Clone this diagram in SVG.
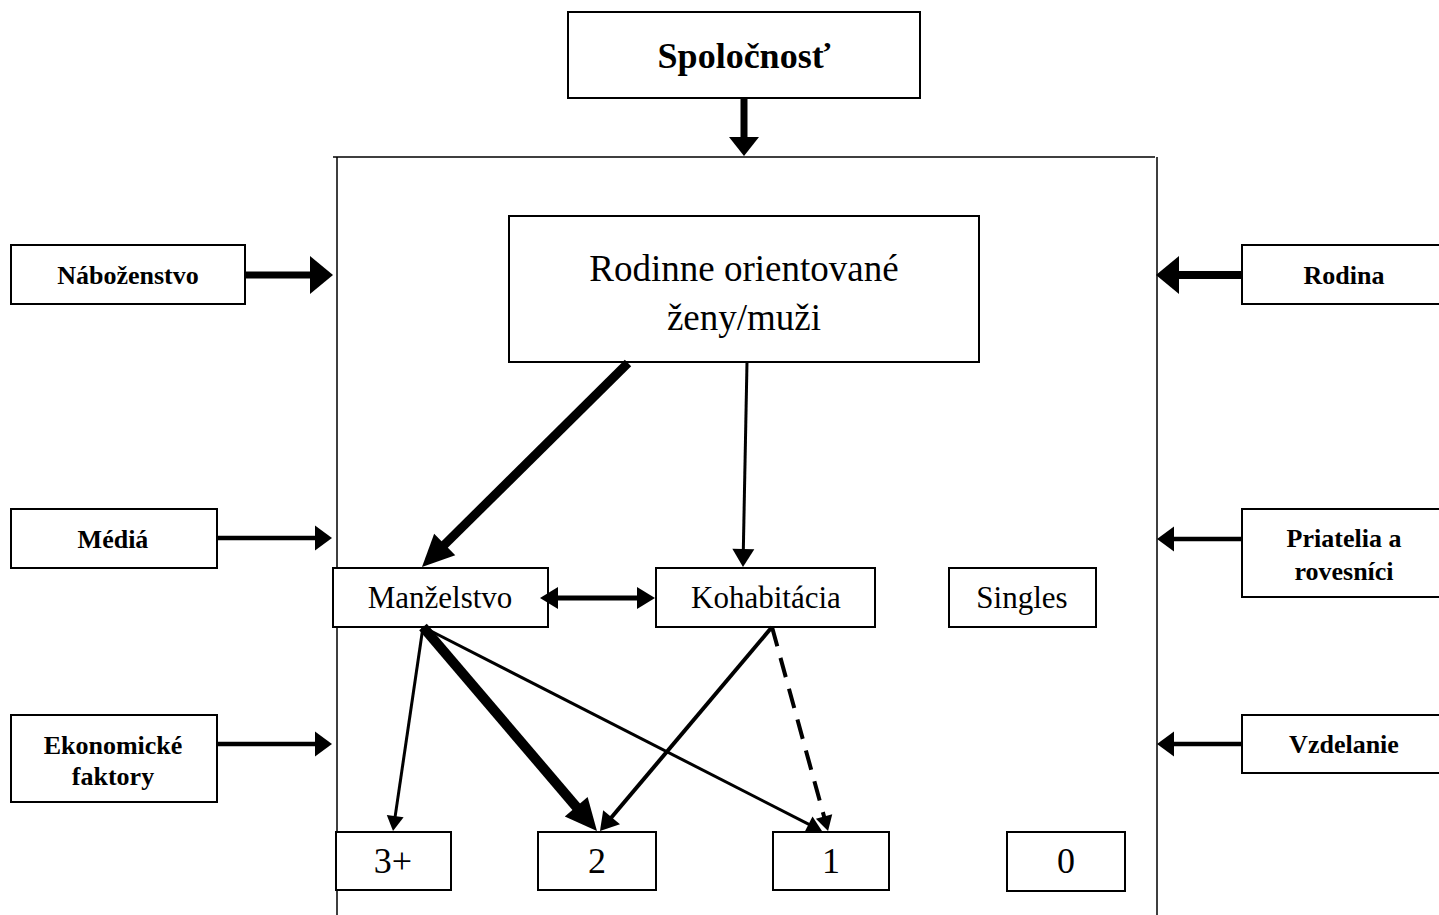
<svg xmlns="http://www.w3.org/2000/svg" width="1439" height="915" viewBox="0 0 1439 915">
<style>
  .box { fill: #fff; stroke: #000; stroke-width: 2; }
  .frame { fill: none; stroke: #000; stroke-width: 1.5; }
  .t { font-family: "Liberation Serif", "Times New Roman", serif; fill: #000; text-anchor: middle; }
  .b { font-weight: bold; font-size: 26px; }
  .r { font-size: 31px; }
  .n { font-size: 36px; }
  .c { fill: none; stroke: #000; }
</style>
<defs>
  <marker id="hTop" markerUnits="userSpaceOnUse" markerWidth="19" markerHeight="30" refX="2" refY="15" orient="auto" overflow="visible"><path d="M0,0 L19,15 L0,30 Z" fill="#000"/></marker>
  <marker id="hBig" markerUnits="userSpaceOnUse" markerWidth="23" markerHeight="38" refX="2" refY="19" orient="auto" overflow="visible"><path d="M0,0 L23,19 L0,38 Z" fill="#000"/></marker>
  <marker id="hMed" markerUnits="userSpaceOnUse" markerWidth="17" markerHeight="25" refX="2" refY="12.5" orient="auto" overflow="visible"><path d="M0,0 L17,12.5 L0,25 Z" fill="#000"/></marker>
  <marker id="hThick" markerUnits="userSpaceOnUse" markerWidth="32" markerHeight="30" refX="2" refY="15" orient="auto" overflow="visible"><path d="M0,0 L32,15 L0,30 Z" fill="#000"/></marker>
  <marker id="hMed2" markerUnits="userSpaceOnUse" markerWidth="18" markerHeight="22" refX="2" refY="11" orient="auto-start-reverse" overflow="visible"><path d="M0,0 L18,11 L0,22 Z" fill="#000"/></marker>
  <marker id="hSmall" markerUnits="userSpaceOnUse" markerWidth="15" markerHeight="17" refX="2" refY="8.5" orient="auto" overflow="visible"><path d="M0,0 L15,8.5 L0,17 Z" fill="#000"/></marker>
</defs>

<g id="frame">
  <path class="frame" d="M333,157 H1155 M337,157 V915 M1157,157 V915"/>
</g>

<g id="spolocnost">
  <rect class="box" x="568" y="12" width="352" height="86"/>
  <text class="t" x="744" y="68" font-size="36" font-weight="bold">Spoločnosť</text>
</g>
<g id="rodinne">
  <rect class="box" x="509" y="216" width="470" height="146"/>
  <text class="t" x="744" y="281" font-size="37">Rodinne orientované</text>
  <text class="t" x="744" y="330" font-size="37">ženy/muži</text>
</g>
<g id="nabozenstvo">
  <rect class="box" x="11" y="245" width="234" height="59"/>
  <text class="t b" x="128" y="284">Náboženstvo</text>
</g>
<g id="media">
  <rect class="box" x="11" y="509" width="206" height="59"/>
  <text class="t b" x="113" y="548">Médiá</text>
</g>
<g id="ekonomicke">
  <rect class="box" x="11" y="715" width="206" height="87"/>
  <text class="t b" x="113" y="754">Ekonomické</text>
  <text class="t b" x="113" y="785">faktory</text>
</g>
<g id="rodina">
  <rect class="box" x="1242" y="245" width="210" height="59"/>
  <text class="t b" x="1344" y="284">Rodina</text>
</g>
<g id="priatelia">
  <rect class="box" x="1242" y="509" width="210" height="88"/>
  <text class="t b" x="1344" y="547">Priatelia a</text>
  <text class="t b" x="1344" y="580">rovesníci</text>
</g>
<g id="vzdelanie">
  <rect class="box" x="1242" y="715" width="210" height="58"/>
  <text class="t b" x="1344" y="753">Vzdelanie</text>
</g>
<g id="manzelstvo">
  <rect class="box" x="333" y="568" width="215" height="59"/>
  <text class="t r" x="440" y="608">Manželstvo</text>
</g>
<g id="kohabitacia">
  <rect class="box" x="656" y="568" width="219" height="59"/>
  <text class="t r" x="766" y="608">Kohabitácia</text>
</g>
<g id="singles">
  <rect class="box" x="949" y="568" width="147" height="59"/>
  <text class="t r" x="1022" y="608">Singles</text>
</g>
<g id="n3">
  <rect class="box" x="336" y="832" width="115" height="58"/>
  <text class="t n" x="393" y="873">3+</text>
</g>
<g id="n2">
  <rect class="box" x="538" y="832" width="118" height="58"/>
  <text class="t n" x="597" y="873">2</text>
</g>
<g id="n1">
  <rect class="box" x="773" y="832" width="116" height="58"/>
  <text class="t n" x="831" y="873">1</text>
</g>
<g id="n0">
  <rect class="box" x="1007" y="832" width="118" height="59"/>
  <text class="t n" x="1066" y="873">0</text>
</g>

<g id="connectors">
  <line class="c" x1="744" y1="98" x2="744" y2="139" stroke-width="7" marker-end="url(#hTop)"/>
  <line class="c" x1="245" y1="275" x2="312" y2="275" stroke-width="7" marker-end="url(#hBig)"/>
  <line class="c" x1="1242" y1="275" x2="1177" y2="275" stroke-width="8" marker-end="url(#hBig)"/>
  <line class="c" x1="217" y1="538" x2="317" y2="538" stroke-width="4.5" marker-end="url(#hMed)"/>
  <line class="c" x1="217" y1="744" x2="317" y2="744" stroke-width="4.5" marker-end="url(#hMed)"/>
  <line class="c" x1="1242" y1="539" x2="1172" y2="539" stroke-width="4.5" marker-end="url(#hMed)"/>
  <line class="c" x1="1242" y1="744" x2="1172" y2="744" stroke-width="4.5" marker-end="url(#hMed)"/>
  <line class="c" x1="628" y1="363" x2="443.3" y2="545.9" stroke-width="9" marker-end="url(#hThick)"/>
  <line class="c" x1="747" y1="362" x2="743.3" y2="551" stroke-width="3" marker-end="url(#hMed2)"/>
  <line class="c" x1="556" y1="598" x2="639" y2="598" stroke-width="5" marker-start="url(#hMed2)" marker-end="url(#hMed2)"/>
  <line class="c" x1="423" y1="627" x2="394.9" y2="818.1" stroke-width="3" marker-end="url(#hSmall)"/>
  <line class="c" x1="423" y1="627" x2="577.5" y2="808.2" stroke-width="10" marker-end="url(#hThick)"/>
  <line class="c" x1="423" y1="627" x2="810.4" y2="825.1" stroke-width="3" marker-end="url(#hSmall)"/>
  <line class="c" x1="772" y1="627" x2="610.3" y2="818.8" stroke-width="4" marker-end="url(#hMed2)"/>
  <line class="c" x1="772" y1="627" x2="824.6" y2="818.5" stroke-width="4" stroke-dasharray="20 12" marker-end="url(#hSmall)"/>
</g>
</svg>
